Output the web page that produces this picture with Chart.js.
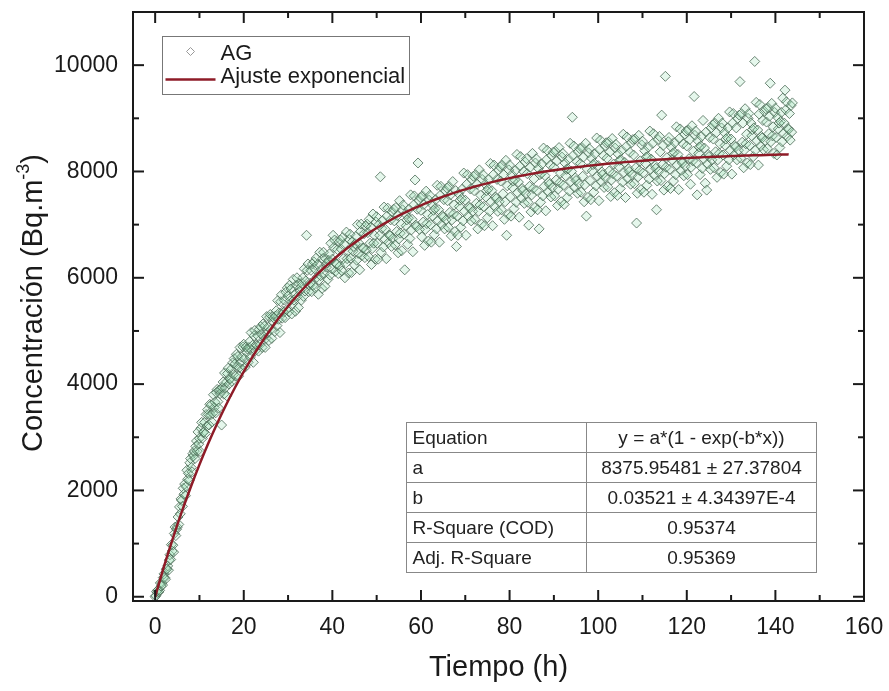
<!DOCTYPE html>
<html>
<head>
<meta charset="utf-8">
<title>Concentración vs tiempo</title>
<script src="https://cdn.jsdelivr.net/npm/chart.js@4"></script>
<style>
  html, body { margin: 0; padding: 0; background: #fff; }
  canvas { display: block; }
</style>
</head>
<body>
<canvas id="myChart" width="889" height="691"></canvas>
<script>
  // lecturas AG, una fila por hora, 6 lecturas (cada 10 min)
  const minutosEntreLecturas = 10;
  const lecturas = [
    [0, 20, 100, 80, 130, 90],
    [120, 260, 200, 260, 220, 360],
    [430, 360, 330, 520, 520, 580],
    [500, 690, 790, 700, 980, 860],
    [970, 840, 1190, 1310, 1150, 1270],
    [1310, 1500, 1360, 1690, 1560, 1840],
    [1810, 1700, 2040, 1930, 2120, 1900],
    [2070, 2380, 2210, 2320, 2190, 2520],
    [2600, 2430, 2350, 2690, 2650, 2740],
    [2600, 2830, 2930, 2740, 3100, 2870],
    [2980, 2730, 3170, 3280, 2980, 3090],
    [3100, 3280, 3070, 3430, 3210, 3520],
    [3430, 3230, 3620, 3420, 3610, 3290],
    [3450, 3800, 3560, 3660, 3460, 3840],
    [3900, 3670, 3550, 3890, 3820, 3900],
    [3230, 3940, 4040, 3810, 4210, 3930],
    [4030, 3780, 4200, 4300, 4000, 4100],
    [4100, 4280, 4050, 4400, 4180, 4480],
    [4380, 4150, 4560, 4330, 4520, 4150],
    [4310, 4690, 4410, 4510, 4280, 4700],
    [4750, 4480, 4320, 4700, 4600, 4660],
    [4410, 4690, 4800, 4510, 4970, 4630],
    [4730, 4410, 4910, 5010, 4630, 4740],
    [4720, 4910, 4620, 5030, 4740, 5080],
    [4940, 4690, 5130, 4890, 5090, 4690],
    [4860, 5270, 4960, 5070, 4820, 5260],
    [5310, 5030, 4860, 5270, 5170, 5240],
    [4990, 5280, 5380, 5100, 5570, 5220],
    [5340, 4970, 5550, 5680, 5240, 5370],
    [5350, 5580, 5250, 5730, 5400, 5810],
    [5660, 5360, 5860, 5570, 5790, 5320],
    [5510, 5970, 5580, 5690, 5370, 5860],
    [6000, 5650, 5440, 5890, 5750, 5820],
    [5580, 5890, 6000, 5650, 6170, 5750],
    [5940, 6800, 6140, 6260, 5740, 5860],
    [5900, 6140, 5740, 6260, 5860, 6300],
    [6170, 5810, 6370, 6010, 6250, 5690],
    [5960, 6480, 6040, 6160, 5800, 6360],
    [6480, 6080, 5840, 6360, 6200, 6280],
    [5970, 6330, 6450, 6050, 6650, 6170],
    [6350, 6800, 6570, 6710, 6120, 6260],
    [6260, 6530, 6080, 6670, 6220, 6710],
    [6540, 6130, 6760, 6360, 6630, 6000],
    [6270, 6860, 6360, 6500, 6090, 6720],
    [6820, 6370, 6100, 6680, 6500, 6590],
    [6240, 6640, 6780, 6330, 7000, 6460],
    [6650, 6150, 6870, 7010, 6420, 6560],
    [6560, 6830, 6380, 6970, 6520, 7010],
    [6850, 6400, 7100, 6650, 6950, 6250],
    [6550, 7200, 6650, 6800, 6350, 7050],
    [7150, 6650, 6350, 7000, 6800, 7900],
    [6480, 6930, 7080, 6580, 7330, 6730],
    [6910, 6360, 7160, 7310, 6660, 6810],
    [6790, 7090, 6590, 7240, 6740, 7290],
    [7070, 6620, 7320, 6870, 7170, 6470],
    [6730, 7450, 6840, 7010, 6510, 7280],
    [7370, 6820, 6150, 7200, 6980, 7090],
    [6630, 7120, 7290, 6740, 7560, 6900],
    [7100, 6490, 7370, 7540, 7840, 6990],
    [6960, 7290, 8160, 7460, 6910, 7510],
    [7270, 6770, 7540, 7050, 7380, 6610],
    [6910, 7630, 7020, 7190, 6690, 7460],
    [7550, 7000, 6670, 7380, 7160, 7270],
    [6810, 7300, 7470, 6920, 7740, 7080],
    [7280, 6670, 7550, 7720, 7000, 7170],
    [7140, 7470, 6920, 7640, 7090, 7690],
    [7450, 6950, 7720, 7230, 7560, 6790],
    [7090, 7810, 7200, 7370, 6870, 7640],
    [6590, 7160, 6800, 7580, 7340, 7460],
    [6950, 7490, 7670, 7070, 7970, 7250],
    [7460, 6800, 7760, 7940, 7160, 7340],
    [7310, 7670, 7070, 7850, 7250, 7910],
    [7640, 7100, 7940, 7400, 7760, 6920],
    [7250, 8030, 7370, 7550, 7010, 7850],
    [7940, 7340, 6980, 7760, 7520, 7640],
    [7130, 7670, 7850, 7250, 8150, 7430],
    [7640, 6980, 7940, 8120, 7340, 7520],
    [7490, 7850, 7250, 8030, 7430, 8090],
    [7820, 7280, 8120, 7580, 7940, 7100],
    [7430, 8210, 6800, 7730, 7190, 8030],
    [8120, 7520, 7160, 7940, 7700, 7820],
    [7300, 7840, 8020, 7420, 8320, 7600],
    [7800, 7140, 8100, 8280, 7500, 7680],
    [7640, 8000, 7400, 8180, 7580, 8240],
    [7960, 7420, 6990, 7720, 8080, 7240],
    [7560, 8340, 7680, 7860, 7320, 8160],
    [8240, 7640, 7280, 8060, 6920, 7940],
    [7420, 7960, 8140, 7540, 8440, 7720],
    [7920, 7260, 8220, 8400, 7620, 7800],
    [7760, 8120, 7520, 8300, 7700, 8360],
    [8080, 7540, 8380, 7840, 8200, 7360],
    [7670, 8450, 7790, 7970, 7430, 8270],
    [8340, 7740, 7380, 8160, 7920, 8040],
    [7510, 8050, 8230, 7630, 8530, 7810],
    [8000, 9020, 8300, 8480, 7700, 7880],
    [7830, 8190, 7590, 8370, 7770, 8430],
    [8150, 7610, 8450, 7910, 8270, 7430],
    [7750, 8530, 7160, 8050, 7510, 8350],
    [8430, 7830, 7470, 8250, 8010, 8130],
    [7610, 8150, 8330, 7730, 8630, 7910],
    [8110, 7450, 8410, 8590, 7810, 7990],
    [7940, 8300, 7700, 8480, 7880, 8540],
    [8250, 7710, 8550, 8010, 8370, 7530],
    [7840, 8620, 7960, 8140, 7600, 8440],
    [8510, 7910, 7550, 8330, 8090, 8210],
    [7680, 8220, 8400, 7800, 8700, 7980],
    [8170, 7510, 8470, 8650, 7870, 8050],
    [8000, 8360, 7760, 8540, 7940, 8600],
    [8310, 7770, 8610, 8070, 7030, 7590],
    [7900, 8680, 8020, 8200, 7660, 8500],
    [8570, 7970, 7610, 8390, 8150, 8270],
    [7740, 8280, 8460, 7860, 8760, 8040],
    [8230, 7570, 8530, 8710, 7930, 8110],
    [8060, 7280, 7820, 8600, 8000, 8660],
    [8370, 7830, 9060, 8130, 8490, 7650],
    [7960, 9790, 8080, 8260, 7720, 8560],
    [8640, 8040, 7680, 8460, 8220, 8340],
    [7820, 8360, 8540, 7940, 8840, 8120],
    [8320, 7660, 8620, 8800, 8020, 8200],
    [8160, 8520, 7920, 8700, 8100, 8760],
    [8480, 7940, 8780, 8240, 8600, 7760],
    [8080, 8860, 8200, 8380, 9410, 8680],
    [8760, 8160, 7560, 8580, 8340, 8460],
    [7940, 8480, 8660, 8060, 8960, 8240],
    [8440, 7780, 8740, 7650, 8140, 8320],
    [8280, 8640, 8040, 8820, 8220, 8880],
    [8610, 8070, 8910, 8370, 8730, 7890],
    [8220, 9000, 8340, 8520, 7980, 8820],
    [8910, 8310, 7950, 8730, 8490, 8610],
    [8100, 8640, 8820, 8220, 9120, 8400],
    [8610, 7950, 8910, 9090, 8310, 8490],
    [8460, 8820, 8220, 9000, 8400, 9060],
    [9690, 8250, 9090, 8550, 8910, 8070],
    [8400, 9180, 8520, 8700, 8160, 9000],
    [9090, 8490, 8130, 8910, 8670, 8790],
    [8280, 8820, 10070, 8400, 9300, 8580],
    [8780, 8120, 9080, 9260, 8480, 8660],
    [8630, 8960, 8410, 9130, 8580, 9180],
    [8930, 8430, 9200, 8710, 9040, 9660],
    [8560, 9280, 8670, 8840, 8340, 9110],
    [9190, 8640, 8310, 9020, 8800, 8910],
    [8450, 8940, 9110, 8560, 9380, 8720],
    [8910, 9530, 9160, 9310, 8660, 8810],
    [8790, 9090, 8590, 9240, 8740, 9290],
  ];

  // curva de ajuste
  const tiempoAjuste = [0, 2, 4, 6, 8, 10, 12, 14, 16, 18, 20, 22, 24, 26, 28, 30, 32, 34, 36, 38,
    40, 42, 44, 46, 48, 50, 52, 54, 56, 58, 60, 62, 64, 66, 68, 70, 72, 74, 76, 78,
    80, 82, 84, 86, 88, 90, 92, 94, 96, 98, 100, 102, 104, 106, 108, 110, 112, 114, 116, 118,
    120, 122, 124, 126, 128, 130, 132, 134, 136, 138, 140, 142, 143];
  const concAjuste = [0, 570, 1100, 1595, 2056, 2486, 2887, 3260, 3608, 3932, 4234, 4516, 4779, 5023, 5251, 5464, 5662, 5846, 6018, 6179,
    6328, 6467, 6597, 6718, 6831, 6936, 7034, 7125, 7210, 7290, 7363, 7432, 7497, 7556, 7612, 7664, 7712, 7758, 7800, 7839,
    7875, 7909, 7941, 7971, 7998, 8024, 8048, 8070, 8091, 8110, 8128, 8145, 8161, 8176, 8189, 8202, 8214, 8225, 8235, 8245,
    8254, 8262, 8270, 8277, 8284, 8290, 8296, 8301, 8306, 8311, 8315, 8320, 8322];

  const xMayores = [0, 20, 40, 60, 80, 100, 120, 140, 160];
  const xMenores = [10, 30, 50, 70, 90, 110, 130, 150];
  const yMayores = [0, 2000, 4000, 6000, 8000, 10000];
  const yMenores = [1000, 3000, 5000, 7000, 9000];

  const tablaAjuste = [
    ['Equation', 'y = a*(1 - exp(-b*x))'],
    ['a', '8375.95481 ± 27.37804'],
    ['b', '0.03521 ± 4.34397E-4'],
    ['R-Square (COD)', '0.95374'],
    ['Adj. R-Square', '0.95369'],
  ];

  const FUENTE = '"Liberation Sans", Arial, Helvetica, sans-serif';
  const TINTA = '#1a1a1a';
  const ROJO = '#8e1b27';

  const puntosAG = [];
  lecturas.forEach((fila, hora) => {
    fila.forEach((c, k) => {
      puntosAG.push({ x: hora + k * minutosEntreLecturas / 60, y: c });
    });
  });
  const puntosAjuste = tiempoAjuste.map((t, i) => ({ x: t, y: concAjuste[i] }));

  function linea(ctx, x1, y1, x2, y2) {
    ctx.beginPath();
    ctx.moveTo(x1, y1);
    ctx.lineTo(x2, y2);
    ctx.stroke();
  }

  const extras = {
    id: 'extras',
    afterDatasetsDraw(chart) {
      const { ctx, chartArea: a, scales: { x, y } } = chart;
      ctx.save();

      // marco y ticks hacia adentro
      ctx.strokeStyle = TINTA;
      ctx.lineWidth = 2;
      ctx.strokeRect(a.left, a.top, a.right - a.left, a.bottom - a.top);
      const marcarX = (vals, largo) => vals.forEach(v => {
        const px = x.getPixelForValue(v);
        linea(ctx, px, a.bottom, px, a.bottom - largo);
        linea(ctx, px, a.top, px, a.top + largo);
      });
      const marcarY = (vals, largo) => vals.forEach(v => {
        const py = y.getPixelForValue(v);
        linea(ctx, a.left, py, a.left + largo, py);
        linea(ctx, a.right, py, a.right - largo, py);
      });
      marcarX(xMayores, 11); marcarX(xMenores, 6);
      marcarY(yMayores, 11); marcarY(yMenores, 6);

      // leyenda
      const lx = a.left + 29.5, ly = a.top + 24.5;
      ctx.lineWidth = 1;
      ctx.strokeStyle = '#777';
      ctx.strokeRect(lx, ly, 247, 58);
      ctx.strokeStyle = '#999';
      ctx.beginPath();
      ctx.moveTo(lx + 28, ly + 11); ctx.lineTo(lx + 32, ly + 15);
      ctx.lineTo(lx + 28, ly + 19); ctx.lineTo(lx + 24, ly + 15);
      ctx.closePath(); ctx.stroke();
      ctx.strokeStyle = ROJO; ctx.lineWidth = 2.5;
      linea(ctx, lx + 3, ly + 43, lx + 53, ly + 43);
      ctx.fillStyle = TINTA;
      ctx.font = '22px ' + FUENTE;
      ctx.textAlign = 'left'; ctx.textBaseline = 'alphabetic';
      ctx.fillText('AG', lx + 58, ly + 23);
      ctx.fillText('Ajuste exponencial', lx + 58, ly + 46);

      // tabla de ajuste
      const tx = 406.5, ty = 422.5, tc = 586.5, tr = 816.5, fh = 30;
      ctx.fillStyle = '#fff';
      ctx.fillRect(tx, ty, tr - tx, fh * tablaAjuste.length);
      ctx.strokeStyle = '#888'; ctx.lineWidth = 1;
      ctx.strokeRect(tx, ty, tr - tx, fh * tablaAjuste.length);
      linea(ctx, tc, ty, tc, ty + fh * tablaAjuste.length);
      for (let i = 1; i < tablaAjuste.length; i++) linea(ctx, tx, ty + fh * i, tr, ty + fh * i);
      ctx.font = '19px ' + FUENTE;
      ctx.fillStyle = '#222';
      ctx.textBaseline = 'middle';
      tablaAjuste.forEach((fila, i) => {
        const cy = ty + fh * i + fh / 2 + 1;
        ctx.textAlign = 'left';
        ctx.fillText(fila[0], tx + 6, cy);
        ctx.textAlign = 'center';
        ctx.fillText(fila[1], (tc + tr) / 2, cy);
      });

      // titulos de ejes
      ctx.fillStyle = TINTA;
      ctx.textBaseline = 'alphabetic';
      ctx.textAlign = 'center';
      ctx.font = '29px ' + FUENTE;
      ctx.fillText('Tiempo (h)', (a.left + a.right) / 2, 676);

      ctx.save();
      ctx.translate(42, 303);
      ctx.rotate(-Math.PI / 2);
      ctx.textAlign = 'left';
      const t1 = 'Concentración (Bq.m', t2 = '-3', t3 = ')';
      ctx.font = '29px ' + FUENTE;
      const w1 = ctx.measureText(t1).width, w3 = ctx.measureText(t3).width;
      ctx.font = '18px ' + FUENTE;
      const w2 = ctx.measureText(t2).width;
      let cx = -(w1 + w2 + w3) / 2;
      ctx.font = '29px ' + FUENTE;
      ctx.fillText(t1, cx, 0); cx += w1;
      ctx.font = '18px ' + FUENTE;
      ctx.fillText(t2, cx, -13); cx += w2;
      ctx.font = '29px ' + FUENTE;
      ctx.fillText(t3, cx, 0);
      ctx.restore();

      ctx.restore();
    }
  };

  const data = {
    datasets: [{
      type: 'line',
      label: 'Ajuste exponencial',
      data: puntosAjuste,
      borderColor: ROJO,
      borderWidth: 2.5,
      pointRadius: 0,
      fill: false,
      cubicInterpolationMode: 'monotone',
      order: 1,
    }, {
      type: 'scatter',
      label: 'AG',
      data: puntosAG,
      pointStyle: 'rectRot',
      pointRadius: 5,
      borderWidth: 1,
      borderColor: 'rgba(75, 105, 85, 0.8)',
      backgroundColor: 'rgba(150, 225, 180, 0.25)',
      order: 2,
    }]
  };

  const config = {
    type: 'scatter',
    data,
    options: {
      responsive: false,
      animation: false,
      layout: { padding: { left: 0, right: 25, top: 12, bottom: 0 } },
      plugins: { legend: { display: false }, tooltip: { enabled: false } },
      scales: {
        x: {
          type: 'linear',
          min: -5,
          max: 160,
          afterBuildTicks: s => { s.ticks = xMayores.map(v => ({ value: v })); },
          afterFit: s => { s.height = 90; s.paddingLeft = 0; s.paddingRight = 0; },
          grid: { display: false, drawTicks: false },
          border: { display: false },
          ticks: {
            callback: v => String(v),
            font: { size: 23, family: FUENTE },
            color: TINTA,
            padding: 13,
            maxRotation: 0,
            autoSkip: false,
          },
        },
        y: {
          type: 'linear',
          min: -80,
          max: 11000,
          afterBuildTicks: s => { s.ticks = yMayores.map(v => ({ value: v })); },
          afterFit: s => { s.width = 133; s.paddingTop = 0; s.paddingBottom = 0; },
          grid: { display: false, drawTicks: false },
          border: { display: false },
          ticks: {
            callback: v => String(v),
            font: { size: 23, family: FUENTE },
            color: TINTA,
            padding: 15,
            autoSkip: false,
          },
        },
      },
    },
    plugins: [extras],
  };

  var myChart = new Chart(document.getElementById('myChart'), config);
</script>
</body>
</html>
